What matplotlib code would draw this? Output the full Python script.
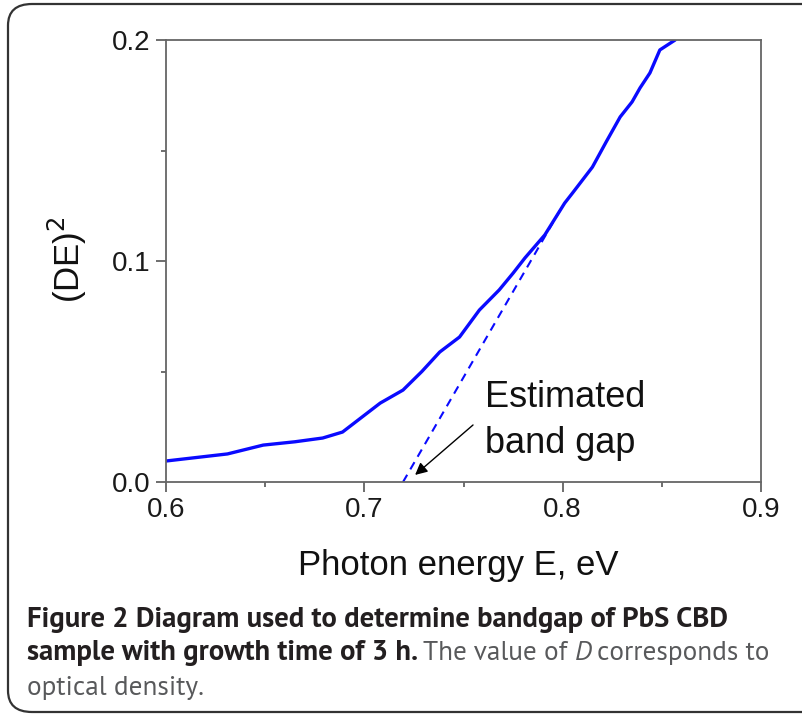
import numpy as np
import matplotlib
matplotlib.use("Agg")
import matplotlib.pyplot as plt
from matplotlib.patches import FancyBboxPatch

# measured curve (DE)^2 vs photon energy
energy = [0.600, 0.631, 0.649, 0.665, 0.679, 0.689, 0.699, 0.708, 0.7195, 0.729,
          0.738, 0.748, 0.758, 0.768, 0.775, 0.781, 0.791, 0.801, 0.805, 0.815,
          0.822, 0.829, 0.835, 0.839, 0.844, 0.849, 0.8567]
de2 = [0.0095, 0.0127, 0.0167, 0.0182, 0.0199, 0.0226, 0.0295, 0.0357, 0.0416, 0.0500,
       0.0588, 0.0656, 0.0778, 0.0869, 0.0945, 0.1014, 0.1118, 0.1262, 0.1308, 0.1425,
       0.1540, 0.1652, 0.1720, 0.1783, 0.1851, 0.1955, 0.2000]

# linear extrapolation to the band gap
fit_e = [0.7195, 0.800]
fit_y = [0.000, 0.125]

arrow_tail = (0.7548, 0.0258)
arrow_head = (0.7256, 0.0032)

plt.rcParams['font.family'] = ['Liberation Sans', 'DejaVu Sans']

fig = plt.figure(figsize=(8.02, 7.15), dpi=100)
ax = fig.add_axes([166/802, 1-482/715, 595/802, 442/715])

ax.plot(energy, de2, color='#0a0aff', lw=2.4, solid_capstyle='round')
ax.plot(fit_e, fit_y, color='#0a0aff', lw=1.5, ls=(0, (4, 3)))
ax.annotate("", xy=arrow_head, xytext=arrow_tail,
            arrowprops=dict(arrowstyle='-|>', color='black', lw=1.0,
                            mutation_scale=18, shrinkA=0, shrinkB=0))
ax.text(0.7609, 0.0339, "Estimated", fontsize=26, color='#111111', ha='left', va='baseline')
ax.text(0.7609, 0.0131, "band gap", fontsize=26, color='#111111', ha='left', va='baseline')

ax.set_xlim(0.6, 0.9)
ax.set_ylim(0.0, 0.2)
ax.set_xticks([0.6, 0.7, 0.8, 0.9])
ax.set_xticklabels(['0.6', '0.7', '0.8', '0.9'])
ax.set_xticks([0.65, 0.75, 0.85], minor=True)
ax.set_yticks([0.0, 0.1, 0.2])
ax.set_yticklabels(['0.0', '0.1', '0.2'])
ax.set_yticks([0.05, 0.15], minor=True)
ax.tick_params(which='both', direction='out', colors='#555555', labelcolor='#1a1a1a',
               labelsize=20, width=1.2)
ax.tick_params(which='major', length=7, pad=4)
ax.tick_params(which='minor', length=3.5)
for s in ax.spines.values():
    s.set_color('#666666')
    s.set_linewidth(1.3)

ax.set_xlabel("Photon energy E, eV", fontsize=25, color='#111111', va='baseline')
ax.xaxis.set_label_coords(0.492, -0.210)
ax.set_ylabel("(DE)$^2$", fontsize=25, color='#111111', va='center')
ax.yaxis.set_label_coords(-0.166, 0.502)

# rounded frame around figure + caption
frame = FancyBboxPatch((8/802, 3/715), 830/802, 708/715, transform=fig.transFigure,
                       boxstyle="round,pad=0,rounding_size=0.03", fill=False,
                       edgecolor='#333333', lw=1.6, clip_on=False)
fig.patches.append(frame)

cap_font = ['PT Sans', 'DejaVu Sans']
dark = '#231f20'
grey = '#58595b'

fig.canvas.draw()
r = fig.canvas.get_renderer()

def put(x, y, s, size, family=cap_font, **kw):
    t = fig.text(x/802, 1-y/715, s, fontsize=size, family=family,
                 va='baseline', ha='left', **kw)
    return t, t.get_window_extent(renderer=r).x1

# fit the first caption line to its width in the reference (27 -> 728 px)
line1 = "Figure 2 Diagram used to determine bandgap of PbS CBD"
t, x1 = put(27, 627, line1, 17, fontweight='bold', color=dark)
cap_size = 17 * (728 - 27) / (x1 - 27)
t.set_fontsize(cap_size)
reg_size = cap_size * 0.95

x = put(27, 660, "sample with growth time of 3 h.", cap_size, fontweight='bold', color=dark)[1]
x = put(x + 5, 660, "The value of ", reg_size, color=grey)[1]
x = put(x, 660, "D", reg_size, color=grey, style='italic')[1]
put(x + 5, 660, "corresponds to", reg_size, color=grey)
put(27, 695, "optical density.", reg_size, color=grey)

fig.savefig("out.png", dpi=100)
